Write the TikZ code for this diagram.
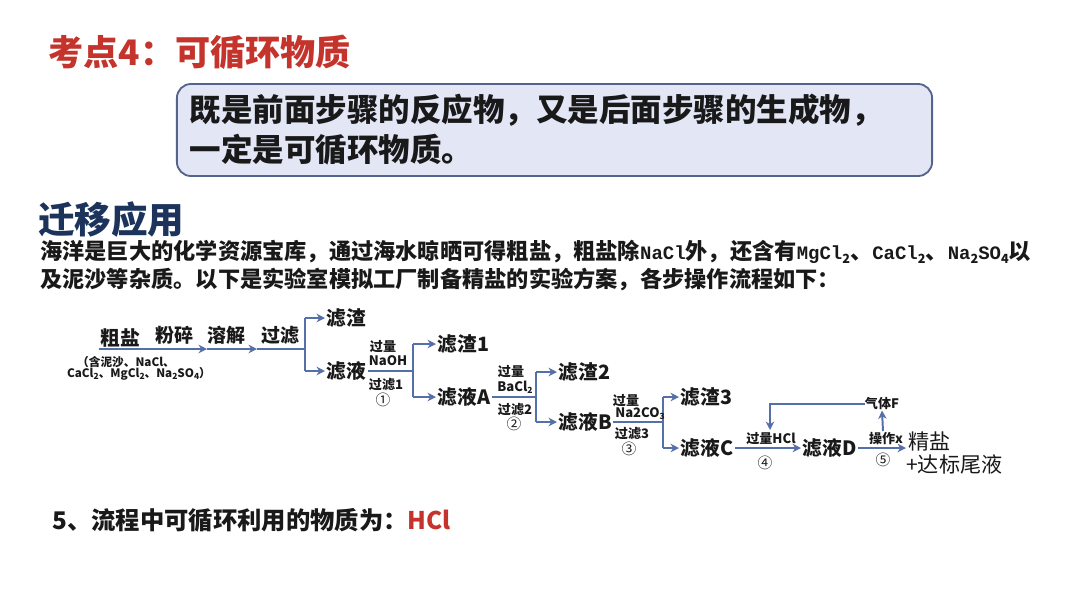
\documentclass[tikz,border=0pt]{standalone}
\usepackage{fontspec}
\setmainfont{Noto Sans CJK SC}
\newfontfamily\latmono{Liberation Mono}
\usetikzlibrary{arrows.meta}
\definecolor{titlered}{RGB}{196,52,44}
\definecolor{navy}{RGB}{28,52,92}
\definecolor{boxfill}{RGB}{226,230,245}
\definecolor{boxdraw}{RGB}{85,100,140}
\definecolor{arrowc}{RGB}{85,112,168}
\definecolor{txt}{RGB}{25,25,25}
\newcommand{\fsz}[1]{\fontsize{#1}{#1}\selectfont}
\newcommand{\lsub}[1]{\raisebox{-0.3ex}{\fontsize{9}{9}\selectfont #1}}
\newcommand{\pl}[1]{{\latmono\bfseries\fontsize{13.5}{15}\selectfont #1}}
\newcommand{\ssub}[1]{\raisebox{-0.3ex}{\fontsize{6}{6}\selectfont #1}}
\begin{document}
\begin{tikzpicture}[x=0.025cm,y=-0.025cm,
  arr/.style={draw=arrowc, line width=1.4pt, -{Stealth[length=6pt,width=6pt]}},
  ln/.style={draw=arrowc, line width=1.4pt},
  flowtxt/.style={font=\bfseries\fsz{14}, text=txt, inner sep=1pt, anchor=west},
  oplab/.style={font=\bfseries\fsz{13.5}, text=txt, inner sep=0pt},
  lab/.style={font=\bfseries\fsz{9.3}, text=txt, inner sep=0pt},
  circ/.style={font=\fsz{10.5}, text=txt, inner sep=0pt},
  para/.style={font=\bfseries\fsz{15.8}, text=txt, inner sep=0pt, anchor=west},
  note/.style={font=\bfseries\fsz{8.3}, text=txt, inner sep=0pt},
]
\useasboundingbox (0,0) rectangle (1080,608);
\fill[white] (0,0) rectangle (1080,608);

% title
\node[anchor=west, inner sep=0pt, text=titlered, font=\bfseries\fsz{25}] (title) at (48,52) {考点4：可循环物质};

% box
\node[draw=boxdraw, fill=boxfill, rounded corners=10pt, line width=1.3pt,
      minimum width=18.875cm, minimum height=2.3cm, text width=18.225cm, align=left,
      inner xsep=0.325cm, font=\bfseries\fontsize{22.4}{28.5}\selectfont, text=txt] (box) at (554.5,130)
  {既是前面步骤的反应物，又是后面步骤的生成物，\\一定是可循环物质。};

% heading
\node[anchor=west, inner sep=0pt, text=navy, font=\bfseries\fsz{26}] (head) at (38,220) {迁移应用};

% paragraph
\node[para] (para1) at (40,252) {海洋是巨大的化学资源宝库，通过海水晾晒可得粗盐，粗盐除\pl{NaCl}外，还含有\pl{MgCl}\lsub{2}、\pl{CaCl}\lsub{2}、\pl{Na}\lsub{2}\pl{SO}\lsub{4}以};
\node[para] (para2) at (40,280) {及泥沙等杂质。以下是实验室模拟工厂制备精盐的实验方案，各步操作流程如下：};

% flow: start
\node[flowtxt, anchor=south] (cy) at (120,349) {粗盐};
\node[note] (cyn1) at (126,362) {（含泥沙、NaCl、};
\node[note] (cyn2) at (139,374) {CaCl\ssub{2}、MgCl\ssub{2}、Na\ssub{2}SO\ssub{4}）};

\coordinate (p1) at (207,349);
\coordinate (p2) at (257,349);
\coordinate (j1) at (305,349);
\coordinate (j1a) at (305,318);
\coordinate (j1b) at (305,371);
\draw[arr] (cy.south west) -- (p1);
\draw[arr] (p1) -- (p2);
\draw[ln] (p2) -- (j1);
\draw[ln] (j1a) -- (j1b);
\node[oplab] (l1) at (174,335) {粉碎};
\node[oplab] (l2) at (226,335) {溶解};
\node[oplab] (l3) at (280,335) {过滤};

\node[flowtxt] (zz) at (325,318) {滤渣};
\node[flowtxt] (zy) at (325,371) {滤液};
\draw[arr] (j1a) -- (zz.west);
\draw[arr] (j1b) -- (zy.west);

% step 1
\coordinate (j2) at (413,371);
\coordinate (j2a) at (413,344);
\coordinate (j2b) at (413,397);
\draw[ln] (zy.east) -- (j2);
\draw[ln] (j2a) -- (j2b);
\node[flowtxt] (zz1) at (436,344) {滤渣1};
\node[flowtxt] (zyA) at (436,397) {滤液A};
\draw[arr] (j2a) -- (zz1.west);
\draw[arr] (j2b) -- (zyA.west);
\node[lab] (s1a) at (383,347) {过量};
\node[lab] (s1b) at (388,361) {NaOH};
\node[lab] (s1c) at (386,385) {过滤1};
\node[circ] (s1d) at (383,400) {①};

% step 2
\coordinate (j3) at (536,397);
\coordinate (j3a) at (536,372);
\coordinate (j3b) at (536,422);
\draw[ln] (zyA.east) -- (j3);
\draw[ln] (j3a) -- (j3b);
\node[flowtxt] (zz2) at (557,372) {滤渣2};
\node[flowtxt] (zyB) at (557,422) {滤液B};
\draw[arr] (j3a) -- (zz2.west);
\draw[arr] (j3b) -- (zyB.west);
\node[lab] (s2a) at (511,372) {过量};
\node[lab] (s2b) at (515,387) {BaCl\ssub{2}};
\node[lab] (s2c) at (515,410) {过滤2};
\node[circ] (s2d) at (514,424) {②};

% step 3
\coordinate (j4) at (663,422);
\coordinate (j4a) at (663,397);
\coordinate (j4b) at (663,448);
\draw[ln] (zyB.east) -- (j4);
\draw[ln] (j4a) -- (j4b);
\node[flowtxt] (zz3) at (679,397) {滤渣3};
\node[flowtxt] (zyC) at (679,448) {滤液C};
\draw[arr] (j4a) -- (zz3.west);
\draw[arr] (j4b) -- (zyC.west);
\node[lab] (s3a) at (626,401) {过量};
\node[lab, anchor=west] (s3b) at (615,414) {Na2CO\ssub{3}};
\node[lab] (s3c) at (632,434) {过滤3};
\node[circ] (s3d) at (629,449) {③};

% step 4
\node[flowtxt] (zyD) at (801,448) {滤液D};
\draw[arr] (zyC.east) -- (zyD.west);
\node[lab] (s4a) at (771,439) {过量HCl};
\node[circ] (s4d) at (765,463) {④};

% step 5
\coordinate (jing) at (906,448);
\draw[arr] (zyD.east) -- (jing);
\node[lab] (s5a) at (886,439) {操作x};
\node[circ] (s5d) at (883,460) {⑤};
\node[anchor=west, inner sep=0pt, font=\fsz{15}, text=txt] (jy) at (908,441) {精盐};
\node[anchor=west, inner sep=0pt, font=\fsz{15}, text=txt] (wy) at (906,464) {+达标尾液};

\node[lab] (qt) at (882,404) {气体F};
\coordinate (up0) at (883,431);
\coordinate (fb) at (770,430);
\draw[arr] (up0) -- (qt.south);
\draw[arr] (qt.west) -| (fb);

% question
\node[anchor=west, inner sep=0pt, font=\bfseries\fsz{17.3}, text=txt] (q) at (52,520) {5、流程中可循环利用的物质为：\textcolor{titlered}{HCl}};
\end{tikzpicture}
\end{document}
